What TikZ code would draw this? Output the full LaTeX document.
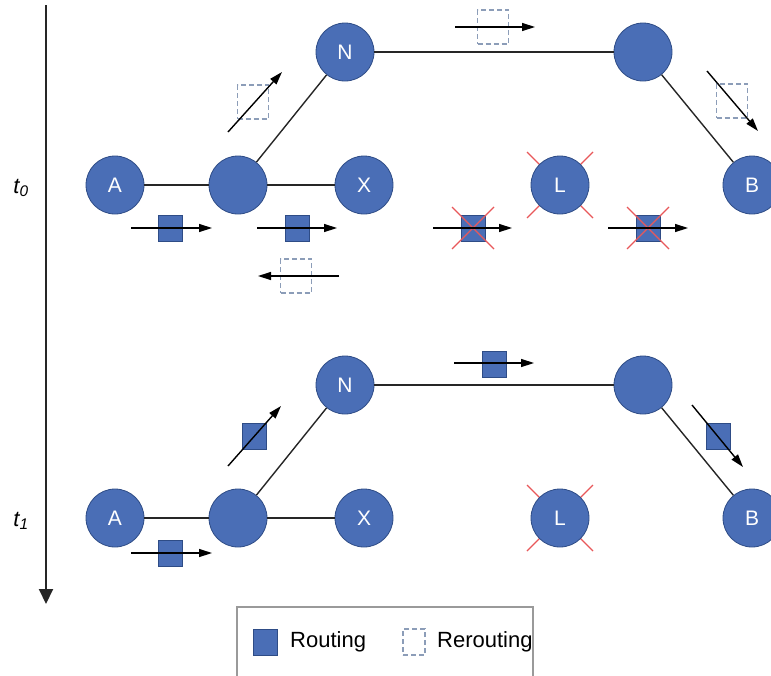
\documentclass[tikz,border=0pt]{standalone}
\usepackage{fontspec}
\setmainfont{Liberation Sans}
\usetikzlibrary{arrows.meta}
\definecolor{nodeblue}{HTML}{4A6EB6}
\definecolor{nodeline}{HTML}{2E4C86}
\definecolor{dashline}{HTML}{8C9DB8}
\definecolor{crossred}{HTML}{E8585A}
\definecolor{boxline}{HTML}{9A9A9A}

\begin{document}
\begin{tikzpicture}[x=1pt, y=-1pt,
  router/.style={circle, minimum size=58pt, inner sep=0pt, fill=nodeblue, draw=nodeline, line width=0.8pt, text=white, font=\fontsize{21}{25}\selectfont},
  link/.style={black!85, line width=1.4pt},
  routing/.style={rectangle, minimum width=24pt, minimum height=26pt, inner sep=0pt, fill=nodeblue, draw=nodeline, line width=0.8pt},
  rerouting/.style={rectangle, minimum width=31pt, minimum height=34pt, inner sep=0pt, draw=dashline, dash pattern=on 5pt off 3pt, line width=1.2pt},
  flow/.style={black, line width=1.4pt, -{Triangle[length=13pt, width=8pt]}},
  cross/.style={crossred, line width=1.3pt},
  legendtext/.style={anchor=west, inner sep=0pt, font=\fontsize{22}{26}\selectfont}]
\useasboundingbox (0,0) rectangle (771,675);
% time axis
\draw[black!85, line width=2pt, -{Triangle[length=15pt, width=14pt]}] (46,5) -- (46,604);
\node (t0) at (21,188) {\fontsize{22}{26}\selectfont\itshape t\textsubscript{0}};
\node (t1) at (21,521) {\fontsize{22}{26}\selectfont\itshape t\textsubscript{1}};
% t0 network
\draw[cross] (527,152) -- (593,218);
\draw[cross] (593,152) -- (527,218);
\node[router] (a0) at (115,185) {A};
\node[router] (m0) at (238,185) {};
\node[router] (x0) at (364,185) {X};
\node[router] (n0) at (345,52) {N};
\node[router] (r0) at (643,52) {};
\node[router] (l0) at (560,185) {L};
\node[router] (b0) at (752,185) {B};
\draw[link] (a0) -- (m0);
\draw[link] (m0) -- (x0);
\draw[link] (m0) -- (n0);
\draw[link] (n0) -- (r0);
\draw[link] (r0) -- (b0);
% t0 packets
\node[routing] (p1) at (170,228) {};
\draw[flow] (131,228) -- (212,228);
\node[routing] (p2) at (297,228) {};
\draw[flow] (257,228) -- (337,228);
\node[rerouting] (q1) at (296,276) {};
\draw[flow] (339,276) -- (258,276);
\node[rerouting] (q2) at (253,102) {};
\draw[flow] (228,132) -- (282,72);
\node[rerouting] (q3) at (493,27) {};
\draw[flow] (455,27) -- (535,27);
\node[rerouting] (q4) at (732,101) {};
\draw[flow] (707,71) -- (758,131);
\node[routing] (p3) at (473,228) {};
\draw[cross] (452,207) -- (494,249);
\draw[cross] (494,207) -- (452,249);
\draw[flow] (433,228) -- (512,228);
\node[routing] (p4) at (648,228) {};
\draw[cross] (627,207) -- (669,249);
\draw[cross] (669,207) -- (627,249);
\draw[flow] (608,228) -- (688,228);
% t1 network
\draw[cross] (527,485) -- (593,551);
\draw[cross] (593,485) -- (527,551);
\node[router] (a1) at (115,518) {A};
\node[router] (m1) at (238,518) {};
\node[router] (x1) at (364,518) {X};
\node[router] (n1) at (345,385) {N};
\node[router] (r1) at (643,385) {};
\node[router] (l1) at (560,518) {L};
\node[router] (b1) at (752,518) {B};
\draw[link] (a1) -- (m1);
\draw[link] (m1) -- (x1);
\draw[link] (m1) -- (n1);
\draw[link] (n1) -- (r1);
\draw[link] (r1) -- (b1);
% t1 packets
\node[routing] (p5) at (170,553) {};
\draw[flow] (131,553) -- (212,553);
\node[routing] (p6) at (254,436) {};
\draw[flow] (228,466) -- (281,406);
\node[routing] (p7) at (494,364) {};
\draw[flow] (454,363) -- (534,363);
\node[routing] (p8) at (718,436) {};
\draw[flow] (692,405) -- (743,467);
% legend
\draw[boxline, line width=1.5pt] (237,682) -- (237,607) -- (533,607) -- (533,682);
\node[routing] (k1) at (265,642) {};
\node[legendtext] (k1text) at (290,642) {Routing};
\node[rerouting, minimum width=22pt, minimum height=26pt] (k2) at (414,642) {};
\node[legendtext] (k2text) at (437,642) {Rerouting};
\end{tikzpicture}
\end{document}
